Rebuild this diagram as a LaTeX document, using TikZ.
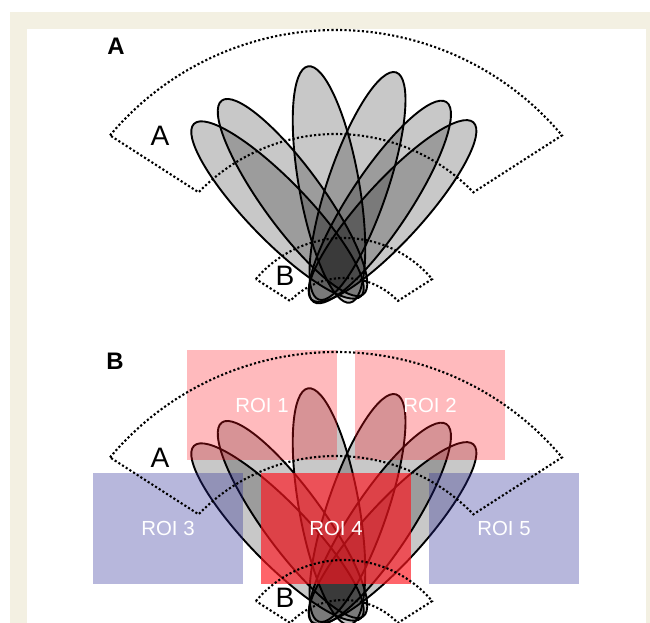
\documentclass[tikz,border=0pt]{standalone}
\usepackage{fontspec}
\setmainfont{Liberation Sans}

\definecolor{cream}{RGB}{243,240,226}
\definecolor{roired}{RGB}{255,20,30}
\definecolor{roiblue}{RGB}{40,40,150}

\begin{document}
\begin{tikzpicture}[x=0.025cm, y=-0.025cm,
    petal/.style={draw=black, line width=1.35pt, fill=black, fill opacity=0.215},
    sector/.style={line width=1.5pt, dash pattern=on 1.5pt off 1.6pt},
    zone/.style={inner sep=0pt, font=\fontsize{20}{24}\selectfont},
    panel/.style={inner sep=0pt, font=\fontsize{17}{20}\selectfont\bfseries},
    roi/.style={inner sep=0pt, minimum width=3.75cm, minimum height=2.75cm,
        text=white, text opacity=1, font=\fontsize{14.5}{17}\selectfont}]
    \useasboundingbox (0,0) rectangle (650,623);

    % Frame
    \fill[cream] (10,12) rectangle (650,623);
    \fill[white] (27,29) rectangle (646,623);

    % Tuning petals, once per panel
    \foreach \dy in {0,322} {
        \foreach \cx/\cy/\ang in {277.5/210/134.1, 292.5/197.5/126.1, 329/184.5/100.1,
                                  357.5/186/71.2, 380/202/56.4, 392.5/211/47.6}
            \draw[petal, rotate around={\ang:(\cx,\cy+\dy)}] (\cx,\cy+\dy) ellipse [x radius=120, y radius=30];
    }

    % Regions of interest (panel B)
    \node[roi, fill=roired, fill opacity=0.29] (roi1) at (262,405) {ROI 1};
    \node[roi, fill=roired, fill opacity=0.29] (roi2) at (430,405) {ROI 2};
    \node[roi, fill=roiblue, fill opacity=0.335] (roi3) at (168,528.5) {ROI 3};
    \node[roi, fill=roired, fill opacity=0.66] (roi4) at (336,528.5) {ROI 4};
    \node[roi, fill=roiblue, fill opacity=0.335] (roi5) at (504,528.5) {ROI 5};

    % Dotted zones A and B, once per panel
    \foreach \dy/\p in {0/a, 322/b} {
        \coordinate (fan\p) at (336,325+\dy);
        \draw[sector] (fan\p) ++(-140:295) arc[start angle=-140, end angle=-40, radius=295]
            -- ([shift={(-44:191)}]fan\p) arc[start angle=-44, end angle=-136, radius=191] -- cycle;
        \coordinate (base\p) at (344,353+\dy);
        \draw[sector] (base\p) ++(-140:115) arc[start angle=-140, end angle=-40, radius=115]
            -- ([shift={(-44:75)}]base\p) arc[start angle=-44, end angle=-136, radius=75] -- cycle;
        \node[zone] (zonea\p) at (160,136+\dy) {A};
        \node[zone] (zoneb\p) at (285,276+\dy) {B};
    }

    % Panel labels
    \node[panel] (panelA) at (116,46) {A};
    \node[panel] (panelB) at (115,361) {B};
\end{tikzpicture}
\end{document}
